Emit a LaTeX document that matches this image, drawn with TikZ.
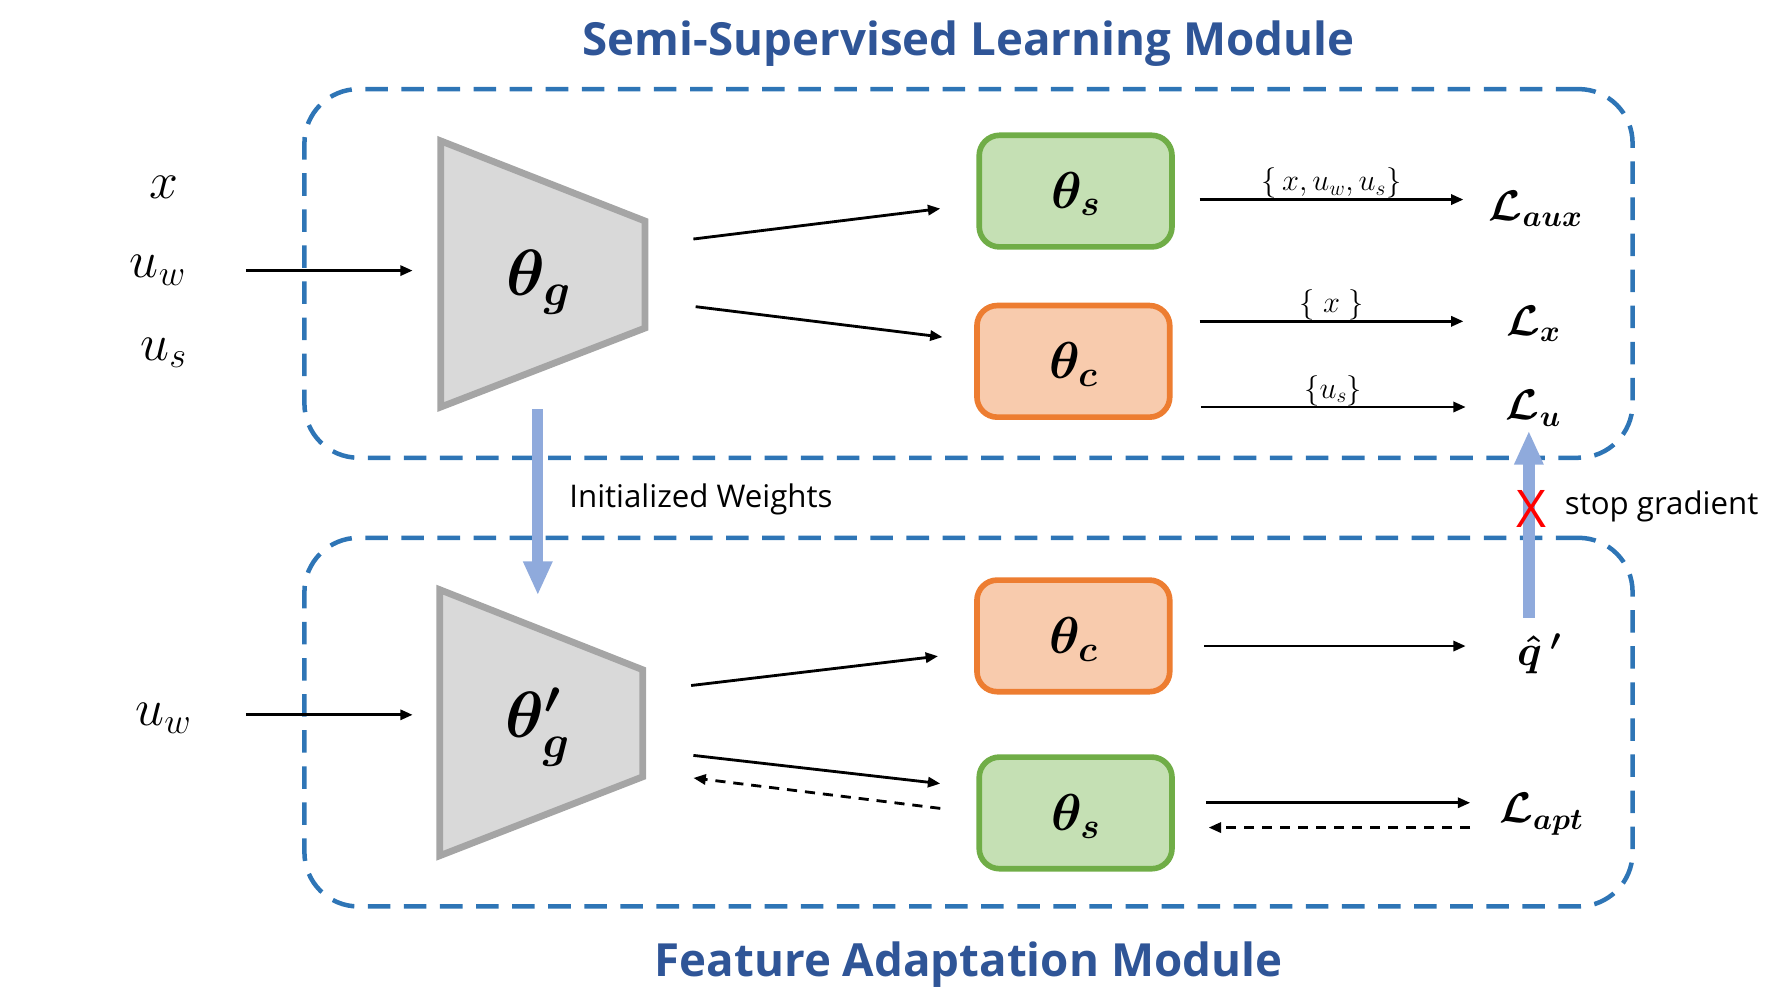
\RequirePackage{fix-cm}
\documentclass[tikz,border=0pt]{standalone}
\usepackage{fontspec}
\setsansfont{Open Sans}
\usetikzlibrary{arrows.meta}
\definecolor{titleblue}{HTML}{2F5597}
\definecolor{dashblue}{HTML}{2E75B6}
\definecolor{lightblue}{HTML}{8FAADC}
\definecolor{encfill}{HTML}{D9D9D9}
\definecolor{encdraw}{HTML}{A5A5A5}
\definecolor{gfill}{HTML}{C5E0B4}
\definecolor{gdraw}{HTML}{70AD47}
\definecolor{ofill}{HTML}{F8CBAD}
\definecolor{odraw}{HTML}{ED7D31}
\begin{document}
\begin{tikzpicture}[x=1pt,y=-1pt,
  every node/.style={inner sep=0pt,outer sep=0pt},
  titletext/.style={font=\fontsize{40.5}{46}\selectfont\sffamily\bfseries,text=titleblue},
  modbox/.style={draw=dashblue,line width=4pt,dash pattern=on 20pt off 12pt,rounded corners=48pt,minimum width=1178pt,minimum height=327pt},
  enc/.style={fill=encfill,draw=encdraw,line width=6pt,line join=miter},
  gbox/.style={draw=gdraw,fill=gfill,line width=5pt,rounded corners=18pt,minimum width=171pt,minimum height=99pt},
  obox/.style={draw=odraw,fill=ofill,line width=5pt,rounded corners=18pt,minimum width=171pt,minimum height=99pt},
  thetalbl/.style={font=\fontsize{46}{52}\selectfont\boldmath},
  enclbl/.style={font=\fontsize{58}{64}\selectfont\boldmath},
  invar/.style={font=\fontsize{46}{52}\selectfont},
  losslbl/.style={font=\fontsize{38}{44}\selectfont\boldmath},
  setlbl/.style={font=\fontsize{27}{32}\selectfont},
  note/.style={font=\fontsize{27.7}{32}\selectfont\sffamily},
  arr/.style={line width=2.5pt,-{Triangle[length=11pt,width=9pt]}},
  darr/.style={line width=2.5pt,dash pattern=on 9pt off 7pt,-{Triangle[length=11pt,width=9pt]}},
  bigarr/.style={draw=lightblue,line width=10pt,-{Triangle[length=30pt,width=24pt]}}
  ]
\useasboundingbox (0,0) rectangle (1569,880);

% titles
\node[titletext] (title1) at (859,39) {Semi-Supervised Learning Module};
\node[titletext] (title2) at (859,856) {Feature Adaptation Module};

% module frames
\node[modbox] (ssl) at (859,242.5) {};
\node[modbox] (fam) at (859,640.5) {};

% encoders
\draw[enc] (391,125) -- (572,196) -- (572,291) -- (391,361) -- cycle;
\node[enclbl] (tg) at (478,250) {$\theta_g$};
\draw[enc] (390,523) -- (570,594) -- (570,689) -- (390,759) -- cycle;
\node[enclbl] (tgp) at (477,645) {$\theta'_g$};

% heads
\node[gbox] (ts1) at (954,169.5) {};
\node[thetalbl] (ts1l) at (954,172) {$\theta_s$};
\node[obox] (tc1) at (952,320.5) {};
\node[thetalbl] (tc1l) at (952,323) {$\theta_c$};
\node[obox] (tc2) at (952,564) {};
\node[thetalbl] (tc2l) at (952,567) {$\theta_c$};
\node[gbox] (ts2) at (954,721) {};
\node[thetalbl] (ts2l) at (954,724) {$\theta_s$};

% inputs
\node[invar] (x) at (145,166) {$x$};
\node[invar] (uw) at (140,240) {$u_w$};
\node[invar] (us) at (145,313) {$u_s$};
\node[invar] (uw2) at (145,637) {$u_w$};

% losses / outputs
\node[losslbl] (laux) at (1362,185) {$\mathcal{L}_{aux}$};
\node[losslbl] (lx) at (1360,287) {$\mathcal{L}_{x}$};
\node[losslbl] (lu) at (1360,362) {$\mathcal{L}_{u}$};
\node[losslbl] (qh) at (1365,580) {${\hat{q}}\,'$};
\node[losslbl] (lapt) at (1367,722) {$\mathcal{L}_{apt}$};

% coordinates for connector ends
\coordinate (a1s) at (218,240);  \coordinate (a1e) at (366,240);
\coordinate (a2s) at (615,212);  \coordinate (a2e) at (834,185);
\coordinate (a3s) at (617,272);  \coordinate (a3e) at (836,299);
\coordinate (a4s) at (1064,177); \coordinate (a4e) at (1298,177);
\coordinate (a5s) at (1064,285); \coordinate (a5e) at (1298,285);
\coordinate (a6s) at (1065,361); \coordinate (a6e) at (1300,361);
\coordinate (b1s) at (218,634);  \coordinate (b1e) at (366,634);
\coordinate (b2s) at (613,608);  \coordinate (b2e) at (832,582);
\coordinate (b3s) at (615,670);  \coordinate (b3e) at (834,695);
\coordinate (b4s) at (834,717);  \coordinate (b4e) at (615,690);
\coordinate (b5s) at (1068,573); \coordinate (b5e) at (1300,573);
\coordinate (b6s) at (1070,712); \coordinate (b6e) at (1304,712);
\coordinate (b7s) at (1304,734); \coordinate (b7e) at (1072,734);
\coordinate (w1s) at (477,363);  \coordinate (w1e) at (477,528);
\coordinate (w2s) at (1356,548); \coordinate (w2e) at (1356,382);

% connectors
\draw[arr] (a1s) -- (a1e);
\draw[arr] (a2s) -- (a2e);
\draw[arr] (a3s) -- (a3e);
\draw[arr] (a4s) -- node[above=1pt,setlbl] (s1) {$\bigl\{\,x,u_w,u_s\bigr\}$} (a4e);
\draw[arr] (a5s) -- node[above=1pt,setlbl] (s2) {$\bigl\{\;x\;\bigr\}$} (a5e);
\draw[arr] (a6s) -- node[above=1pt,setlbl] (s3) {$\bigl\{u_s\bigr\}$} (a6e);
\draw[arr] (b1s) -- (b1e);
\draw[arr] (b2s) -- (b2e);
\draw[arr] (b3s) -- (b3e);
\draw[darr] (b4s) -- (b4e);
\draw[arr] (b5s) -- (b5e);
\draw[arr] (b6s) -- (b6e);
\draw[darr] (b7s) -- (b7e);

\draw[bigarr] (w1s) -- (w1e);
\draw[bigarr] (w2s) -- (w2e);

\node[note,anchor=west] (iw) at (505,443) {Initialized Weights};
\node[font=\fontsize{46}{52}\selectfont\sffamily,text=red] (xmark) at (1358,451) {X};
\node[note,anchor=west] (sg) at (1388,449) {stop gradient};
\end{tikzpicture}
\end{document}
